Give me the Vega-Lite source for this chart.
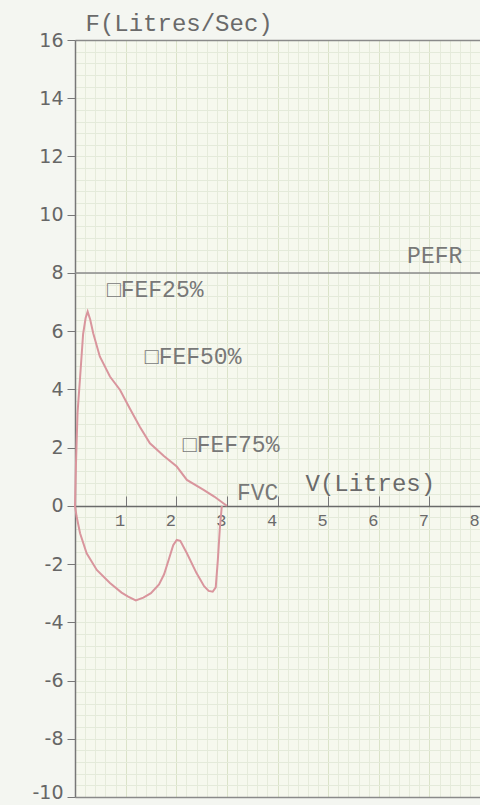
{
  "$schema": "https://vega.github.io/schema/vega-lite/v6.json",
  "width": 405,
  "height": 757,
  "autosize": {"type": "none"},
  "padding": {"left": 75, "top": 40, "right": 0, "bottom": 8},
  "background": "#f4f6f1",
  "config": {"view": {"fill": "#f6f8ee", "stroke": null}, "axis": {"labelOverlap": false}},
  "layer": [
    {
      "data": {"values": [
        {"i": 1, "v": 2.9, "f": 0}, {"i": 2, "v": 2.86, "f": -0.8}, {"i": 3, "v": 2.82, "f": -1.9},
        {"i": 4, "v": 2.78, "f": -2.8}, {"i": 5, "v": 2.72, "f": -2.95}, {"i": 6, "v": 2.64, "f": -2.92},
        {"i": 7, "v": 2.55, "f": -2.76}, {"i": 8, "v": 2.4, "f": -2.31}, {"i": 9, "v": 2.21, "f": -1.63},
        {"i": 10, "v": 2.08, "f": -1.2}, {"i": 11, "v": 2.01, "f": -1.17}, {"i": 12, "v": 1.94, "f": -1.35},
        {"i": 13, "v": 1.86, "f": -1.8}, {"i": 14, "v": 1.76, "f": -2.35}, {"i": 15, "v": 1.66, "f": -2.7},
        {"i": 16, "v": 1.5, "f": -3.0}, {"i": 17, "v": 1.35, "f": -3.15}, {"i": 18, "v": 1.2, "f": -3.25},
        {"i": 19, "v": 1.05, "f": -3.12}, {"i": 20, "v": 0.92, "f": -2.98}, {"i": 21, "v": 0.69, "f": -2.65},
        {"i": 22, "v": 0.43, "f": -2.2}, {"i": 23, "v": 0.23, "f": -1.63}, {"i": 24, "v": 0.1, "f": -0.94},
        {"i": 25, "v": 0.03, "f": -0.35}, {"i": 26, "v": 0, "f": 0}, {"i": 27, "v": 0.02, "f": 1.5},
        {"i": 28, "v": 0.05, "f": 3.2}, {"i": 29, "v": 0.1, "f": 4.4}, {"i": 30, "v": 0.16, "f": 5.9},
        {"i": 31, "v": 0.21, "f": 6.45}, {"i": 32, "v": 0.25, "f": 6.67}, {"i": 33, "v": 0.3, "f": 6.4},
        {"i": 34, "v": 0.36, "f": 5.93}, {"i": 35, "v": 0.49, "f": 5.13}, {"i": 36, "v": 0.69, "f": 4.44},
        {"i": 37, "v": 0.89, "f": 3.98}, {"i": 38, "v": 1.08, "f": 3.35}, {"i": 39, "v": 1.28, "f": 2.72},
        {"i": 40, "v": 1.48, "f": 2.15}, {"i": 41, "v": 1.75, "f": 1.72}, {"i": 42, "v": 2.01, "f": 1.35},
        {"i": 43, "v": 2.21, "f": 0.89}, {"i": 44, "v": 2.54, "f": 0.55}, {"i": 45, "v": 2.75, "f": 0.32},
        {"i": 46, "v": 2.93, "f": 0.09}, {"i": 47, "v": 3.0, "f": 0}
      ]},
      "mark": {"type": "line", "color": "#d9959d", "strokeWidth": 2, "interpolate": "linear"},
      "encoding": {
        "order": {"field": "i", "type": "quantitative"},
        "x": {
          "field": "v", "type": "quantitative",
          "scale": {"domain": [0, 8], "nice": false, "zero": false},
          "axis": {
            "orient": "bottom",
            "offset": -291,
            "tickCount": 200,
            "values": [0,0.2,0.4,0.6,0.8,1,1.2,1.4,1.6,1.8,2,2.2,2.4,2.6,2.8,3,3.2,3.4,3.6,3.8,4,4.2,4.4,4.6,4.8,5,5.2,5.4,5.6,5.8,6,6.2,6.4,6.6,6.8,7,7.2,7.4,7.6,7.8,8],
            "labelExpr": "datum.value > 0 && datum.value % 1 === 0 ? '' + datum.value : ''",
            "labelOverlap": false,
            "labelFlush": false,
            "labelBound": false,
            "labelFont": "Liberation Mono",
            "labelFontSize": 17,
            "labelColor": "#6a6a6a",
            "labelPadding": 16,
            "labelOffset": -6,
            "tickSize": -10,
            "tickColor": "#777777",
            "tickOpacity": {"condition": {"test": "datum.value > 0 && datum.value % 1 === 0", "value": 1}, "value": 0},
            "domainColor": "#6a6a6a",
            "domainWidth": 1.5,
            "grid": true,
            "gridColor": {"condition": {"test": "datum.value % 1 === 0", "value": "#dbe3c9"}, "value": "#e6ebdb"},
            "title": "V(Litres)",
            "titleFont": "Liberation Mono",
            "titleFontSize": 24,
            "titleFontWeight": "normal",
            "titleColor": "#6a6a6a",
            "titleAlign": "left",
            "titleBaseline": "alphabetic",
            "titleX": 230,
            "titleY": -16
          }
        },
        "y": {
          "field": "f", "type": "quantitative",
          "scale": {"domain": [-10, 16], "nice": false, "zero": false},
          "axis": {
            "orient": "left",
            "tickCount": 200,
            "values": [-10,-9.6,-9.2,-8.8,-8.4,-8,-7.6,-7.2,-6.8,-6.4,-6,-5.6,-5.2,-4.8,-4.4,-4,-3.6,-3.2,-2.8,-2.4,-2,-1.6,-1.2,-0.8,-0.4,0,0.4,0.8,1.2,1.6,2,2.4,2.8,3.2,3.6,4,4.4,4.8,5.2,5.6,6,6.4,6.8,7.2,7.6,8,8.4,8.8,9.2,9.6,10,10.4,10.8,11.2,11.6,12,12.4,12.8,13.2,13.6,14,14.4,14.8,15.2,15.6,16],
            "labelExpr": "datum.value % 2 === 0 ? '' + datum.value : ''",
            "labelOverlap": false,
            "labelFlush": false,
            "labelBound": false,
            "labelFont": "DejaVu Sans",
            "labelFontSize": 19,
            "labelColor": "#666666",
            "labelPadding": 4,
            "labelOffset": {"condition": {"test": "datum.value === -10", "value": -5}, "value": 0},
            "tickSize": 8,
            "tickColor": "#777777",
            "tickOpacity": {"condition": {"test": "datum.value % 2 === 0", "value": 1}, "value": 0},
            "domainColor": "#777777",
            "domainWidth": 1.5,
            "grid": true,
            "gridColor": {"condition": {"test": "datum.value === 16 || datum.value === -10", "value": "#8a8a8a"}, "value": "#e4eada"},
            "gridWidth": {"condition": {"test": "datum.value === 16 || datum.value === -10", "value": 1.5}, "value": 1},
            "title": "F(Litres/Sec)",
            "titleFont": "Liberation Mono",
            "titleFontSize": 24,
            "titleFontWeight": "normal",
            "titleColor": "#6a6a6a",
            "titleAngle": 0,
            "titleAlign": "left",
            "titleBaseline": "alphabetic",
            "titleX": 10,
            "titleY": -10
          }
        }
      }
    },
    {
      "data": {"values": [{"label": "PEFR", "f": 8}]},
      "mark": {"type": "rule", "color": "#8a8a8a", "strokeWidth": 1.5},
      "encoding": {
        "y": {"field": "f", "type": "quantitative", "scale": {"domain": [-10, 16], "nice": false, "zero": false}}
      }
    },
    {
      "data": {"values": [
        {"label": "PEFR", "v": 6.56, "f": 8.34},
        {"label": "□FEF25%", "v": 0.63, "f": 7.18},
        {"label": "□FEF50%", "v": 1.38, "f": 4.88},
        {"label": "□FEF75%", "v": 2.13, "f": 1.85},
        {"label": "FVC", "v": 3.2, "f": 0.2}
      ]},
      "mark": {"type": "text", "align": "left", "baseline": "alphabetic", "font": "Liberation Mono", "fontSize": 23, "color": "#787878"},
      "encoding": {
        "x": {"field": "v", "type": "quantitative", "scale": {"domain": [0, 8], "nice": false, "zero": false}},
        "y": {"field": "f", "type": "quantitative", "scale": {"domain": [-10, 16], "nice": false, "zero": false}},
        "text": {"field": "label", "type": "nominal"}
      }
    }
  ]
}
